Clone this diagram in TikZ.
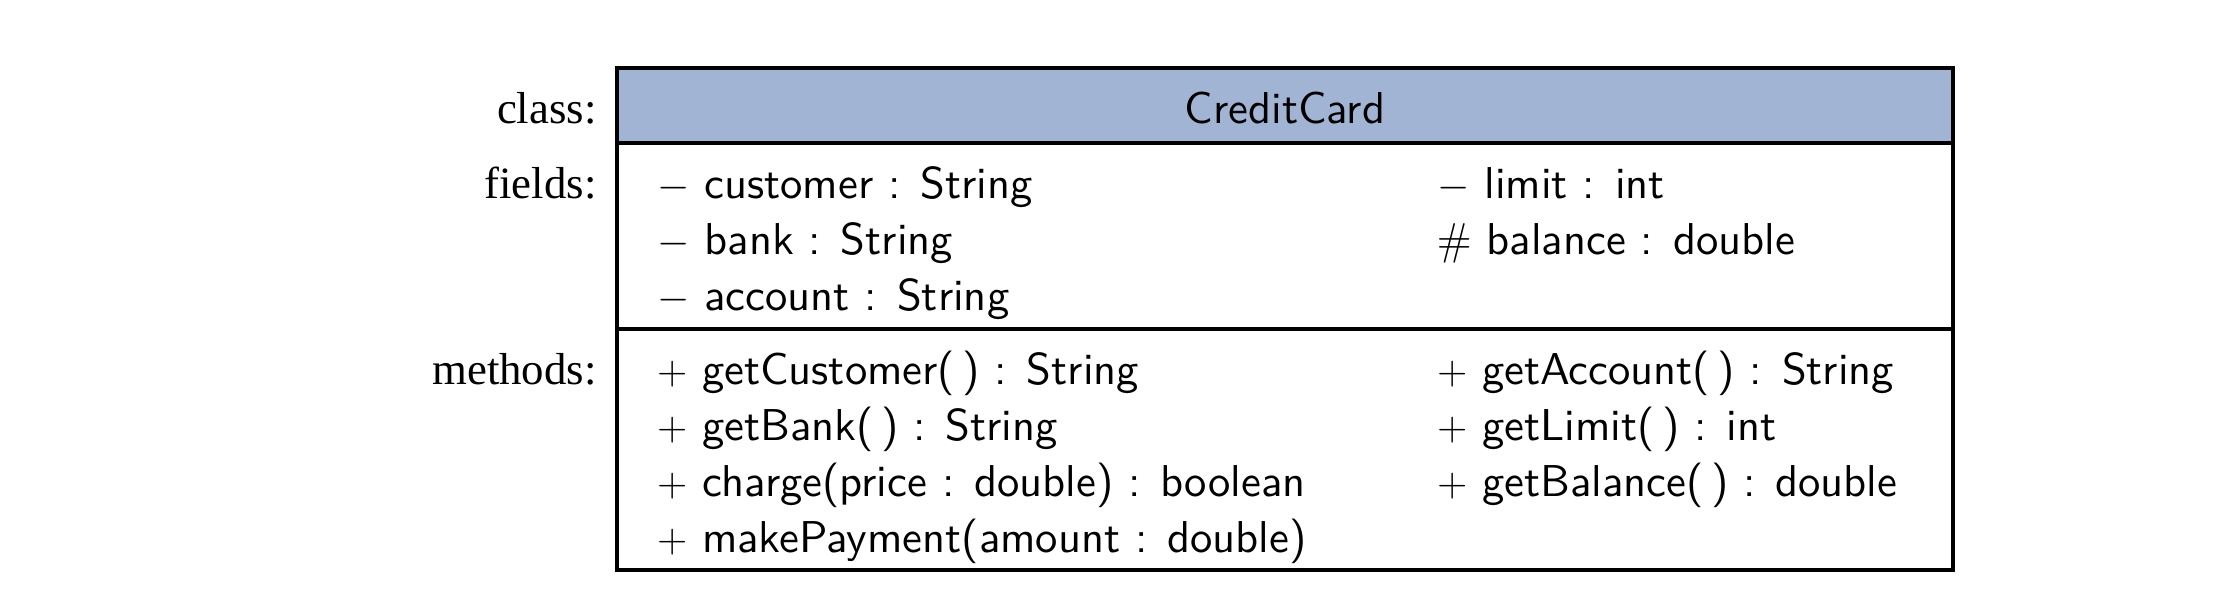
\documentclass[tikz,border=0pt]{standalone}
\usepackage{fontspec}
\newfontfamily\labelfont{Liberation Serif}
\newfontfamily\umlsans{lmsans10-regular.otf}
\definecolor{hdr}{RGB}{161,180,212}
\begin{document}
\begin{tikzpicture}[x=0.5pt,y=-0.5pt,
  comp/.style={draw, line width=1.9pt, inner sep=0pt, outer sep=0pt, anchor=north west, minimum width=668pt},
  txt/.style={anchor=base west, inner sep=0pt, font=\fontsize{22.3}{26}\selectfont\umlsans},
  ttl/.style={anchor=base, inner sep=0pt, font=\fontsize{22.3}{26}\selectfont\umlsans},
  lbl/.style={anchor=base east, inner sep=0pt, font=\fontsize{22.4}{26}\selectfont\labelfont}]
\useasboundingbox (0,0) rectangle (2224,600);
% compartments
\node[comp, fill=hdr, minimum height=37.5pt] (head) at (617,68) {};
\node[comp, minimum height=93pt] (fields) at (617,143) {};
\node[comp, minimum height=120.5pt] (methods) at (617,329) {};
% labels
\node[lbl] (lclass) at (597,123) {class:};
\node[lbl] (lfields) at (597,198) {fields:};
\node[lbl] (lmethods) at (597,384) {methods:};
% title
\node[ttl] (title) at (1285,123) {CreditCard};
% fields
\node[txt] (f1) at (657,198) {$-$ customer : String};
\node[txt] (f2) at (657,254) {$-$ bank : String};
\node[txt] (f3) at (657,310) {$-$ account : String};
\node[txt] (f4) at (1437,198) {$-$ limit : int};
\node[txt] (f5) at (1437,254) {$\#$ balance : double};
% methods
\node[txt] (m1) at (657,384) {$+$ getCustomer(\,) : String};
\node[txt] (m2) at (657,440) {$+$ getBank(\,) : String};
\node[txt] (m3) at (657,496) {$+$ charge(price : double) : boolean};
\node[txt] (m4) at (657,552) {$+$ makePayment(amount : double)};
\node[txt] (m5) at (1437,384) {$+$ getAccount(\,) : String};
\node[txt] (m6) at (1437,440) {$+$ getLimit(\,) : int};
\node[txt] (m7) at (1437,496) {$+$ getBalance(\,) : double};
\end{tikzpicture}
\end{document}
